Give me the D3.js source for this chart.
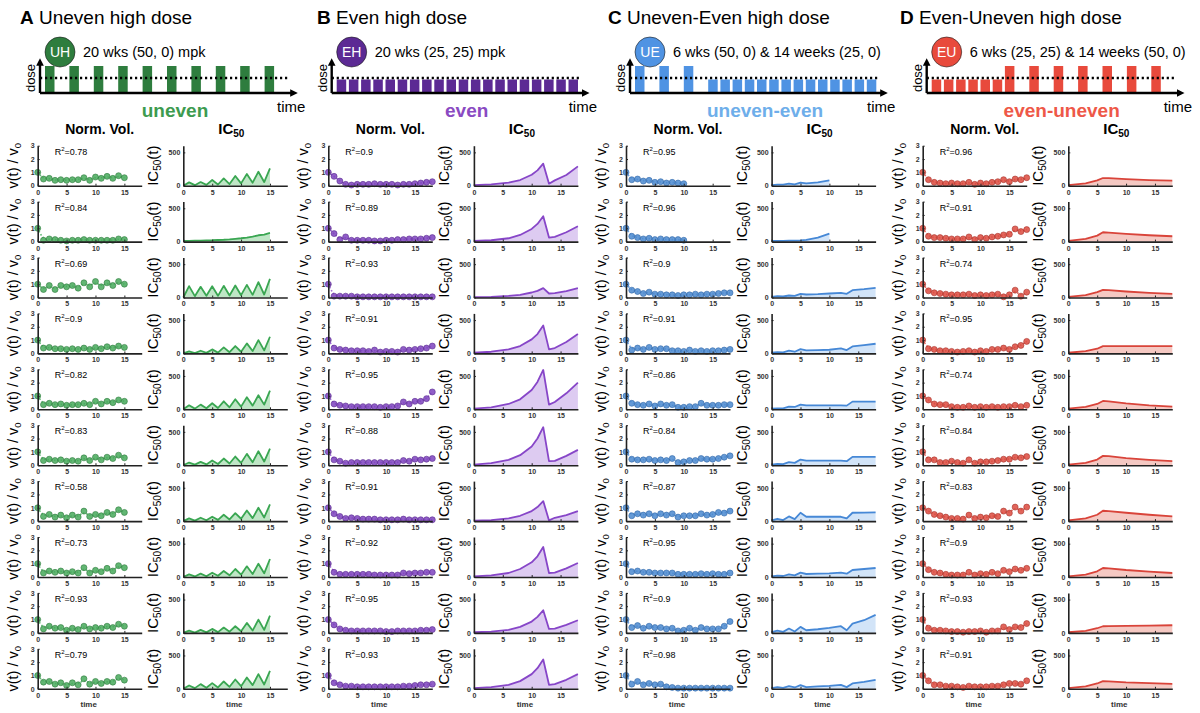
<!DOCTYPE html>
<html>
<head>
<meta charset="utf-8">
<script src="https://cdn.jsdelivr.net/npm/d3@7"></script>
<style>
  body { margin: 0; background: #fff; }
  text { font-family: "Liberation Sans", Arial, Helvetica, sans-serif; }
</style>
</head>
<body>
<svg id="chart" width="1200" height="713"></svg>
<script>
// ---------------- data ----------------
var panelLetters  = ["A", "B", "C", "D"];
var panelTitles   = ["Uneven high dose", "Even high dose", "Uneven-Even high dose", "Even-Uneven high dose"];
var badgeLabels   = ["UH", "EH", "UE", "EU"];
var regimenTexts  = ["20 wks (50, 0) mpk", "20 wks (25, 25) mpk",
                     "6 wks (50, 0) & 14 weeks (25, 0)", "6 wks (25, 25) & 14 weeks (50, 0)"];
var schemeNames   = ["uneven", "even", "uneven-even", "even-uneven"];
var meanDose      = 25;

// weekly dose (mpk), weeks 1..20
var doseA = [50,0,50,0,50,0,50,0,50,0,50,0,50,0,50,0,50,0,50,0];
var doseB = [25,25,25,25,25,25,25,25,25,25,25,25,25,25,25,25,25,25,25,25];
var doseC = [50,0,50,0,50,0,25,25,25,25,25,25,25,25,25,25,25,25,25,25];
var doseD = [25,25,25,25,25,25,50,0,50,0,50,0,50,0,50,0,50,0,50,0];

// R^2 per mouse
var r2A = [0.78, 0.84, 0.69, 0.9, 0.82, 0.83, 0.58, 0.73, 0.93, 0.79];
var r2B = [0.9, 0.89, 0.93, 0.91, 0.95, 0.88, 0.91, 0.92, 0.95, 0.93];
var r2C = [0.95, 0.96, 0.9, 0.91, 0.86, 0.84, 0.87, 0.95, 0.9, 0.98];
var r2D = [0.96, 0.91, 0.74, 0.95, 0.74, 0.84, 0.83, 0.9, 0.93, 0.91];

// normalised volume v(t)/v0, index = time (weeks)
var volA = [
  [1.0,0.5,0.55,0.4,0.45,0.4,0.45,0.45,0.6,0.4,0.65,0.55,0.7,0.55,0.75,0.6],
  [1.0,0.1,0.2,0.15,0.1,0.05,0.1,0.1,0.15,0.1,0.1,0.1,0.1,0.1,0.2,0.15],
  [1.0,0.6,0.9,0.6,0.9,0.8,0.9,0.7,1.1,0.8,1.2,0.8,1.1,0.9,1.2,1.0],
  [1.0,0.4,0.45,0.35,0.35,0.3,0.35,0.3,0.4,0.3,0.45,0.35,0.5,0.4,0.55,0.45],
  [1.0,0.35,0.45,0.35,0.4,0.3,0.35,0.35,0.45,0.35,0.6,0.4,0.6,0.5,0.7,0.6],
  [1.0,0.35,0.45,0.35,0.4,0.3,0.35,0.3,0.55,0.35,0.6,0.4,0.6,0.5,0.75,0.55],
  [1.0,0.35,0.5,0.3,0.45,0.25,0.45,0.3,0.75,0.35,0.5,0.4,0.65,0.5,0.85,0.65],
  [1.0,0.3,0.45,0.35,0.45,0.3,0.4,0.3,0.7,0.3,0.5,0.4,0.65,0.45,0.85,0.7],
  [1.0,0.3,0.5,0.35,0.4,0.2,0.35,0.25,0.5,0.3,0.4,0.35,0.5,0.4,0.65,0.5],
  [1.0,0.5,0.55,0.35,0.45,0.25,0.45,0.3,0.75,0.35,0.55,0.4,0.55,0.5,0.85,0.65]
];
var volB = [
  [1.0,0.7,0.35,0.1,0.05,0.1,0.1,0.1,0.15,0.1,0.1,0.1,0.05,0.1,0.1,0.15,0.2,0.25,0.3],
  [1.0,0.6,0.15,0.35,0.1,0.1,0.1,0.1,0.05,0.05,0.1,0.1,0.15,0.15,0.2,0.2,0.2,0.25,0.3],
  [1.0,0.1,0.1,0.1,0.1,0.05,0.05,0.05,0.05,0.05,0.05,0.05,0.05,0.05,0.05,0.05,0.05,0.05,0.05],
  [1.0,0.4,0.3,0.25,0.2,0.2,0.2,0.15,0.25,0.1,0.15,0.15,0.1,0.3,0.25,0.3,0.35,0.4,0.55],
  [1.0,0.4,0.3,0.25,0.2,0.2,0.2,0.2,0.2,0.15,0.2,0.2,0.25,0.55,0.4,0.6,0.6,0.8,1.3],
  [1.0,0.4,0.3,0.15,0.2,0.2,0.2,0.2,0.2,0.2,0.2,0.2,0.2,0.35,0.3,0.45,0.4,0.45,0.5],
  [1.0,0.55,0.35,0.2,0.25,0.2,0.15,0.15,0.15,0.1,0.1,0.1,0.1,0.15,0.1,0.1,0.1,0.1,0.1],
  [1.0,0.35,0.2,0.2,0.2,0.2,0.2,0.2,0.15,0.15,0.15,0.15,0.15,0.3,0.25,0.3,0.3,0.35,0.35],
  [1.0,0.6,0.3,0.2,0.15,0.15,0.15,0.15,0.15,0.15,0.1,0.1,0.15,0.15,0.15,0.15,0.2,0.2,0.25],
  [1.0,0.45,0.3,0.2,0.2,0.15,0.15,0.15,0.15,0.15,0.15,0.15,0.15,0.2,0.2,0.25,0.3,0.3,0.35]
];
var volC = [
  [1.0,0.45,0.5,0.35,0.4,0.25,0.3,0.2,0.25,0.2,0.15],
  [1.0,0.4,0.3,0.2,0.25,0.15,0.2,0.15,0.15,0.15,0.1],
  [1.0,0.55,0.45,0.3,0.4,0.25,0.25,0.2,0.2,0.15,0.2,0.2,0.25,0.2,0.25,0.25,0.3,0.35,0.35],
  [1.0,0.25,0.4,0.3,0.45,0.3,0.35,0.35,0.2,0.2,0.15,0.25,0.15,0.2,0.15,0.2,0.2,0.25,0.3],
  [1.0,0.45,0.35,0.3,0.4,0.25,0.4,0.3,0.35,0.15,0.15,0.2,0.2,0.45,0.3,0.3,0.3,0.35,0.35],
  [1.0,0.45,0.4,0.4,0.45,0.35,0.4,0.35,0.5,0.2,0.25,0.35,0.35,0.5,0.45,0.45,0.5,0.6,0.7],
  [1.0,0.4,0.55,0.45,0.55,0.4,0.55,0.45,0.55,0.3,0.4,0.4,0.4,0.55,0.45,0.5,0.65,0.6,0.75],
  [1.0,0.4,0.45,0.35,0.35,0.3,0.3,0.3,0.3,0.2,0.2,0.2,0.2,0.25,0.2,0.25,0.2,0.2,0.3],
  [1.0,0.4,0.55,0.35,0.5,0.4,0.4,0.3,0.35,0.15,0.2,0.35,0.2,0.4,0.3,0.3,0.3,0.5,0.85],
  [1.0,0.35,0.55,0.3,0.4,0.3,0.35,0.15,0.1,0.05,0.05,0.05,0.05,0.05,0.05,0.05,0.05,0.05,0.05]
];
var volD = [
  [1.0,0.45,0.25,0.2,0.15,0.2,0.15,0.15,0.25,0.1,0.2,0.15,0.25,0.3,0.45,0.3,0.5,0.45,0.6],
  [1.0,0.4,0.3,0.3,0.25,0.2,0.2,0.2,0.35,0.15,0.3,0.25,0.35,0.4,0.5,0.55,0.95,0.75,0.9],
  [1.0,0.5,0.35,0.3,0.25,0.2,0.2,0.2,0.25,0.15,0.2,0.15,0.2,0.25,0.05,0.2,0.55,0.1,0.4],
  [1.0,0.35,0.3,0.2,0.2,0.15,0.1,0.15,0.2,0.1,0.2,0.15,0.3,0.3,0.4,0.3,0.5,0.6,0.9],
  [1.0,0.7,0.4,0.35,0.35,0.2,0.15,0.15,0.25,0.15,0.2,0.15,0.2,0.15,0.2,0.2,0.3,0.2,0.3],
  [1.0,0.4,0.4,0.2,0.2,0.3,0.2,0.15,0.4,0.15,0.25,0.25,0.3,0.35,0.45,0.45,0.6,0.55,0.65],
  [1.0,0.75,0.5,0.4,0.3,0.2,0.2,0.15,0.45,0.2,0.3,0.25,0.4,0.35,0.75,0.6,1.05,0.75,1.05],
  [1.0,0.55,0.35,0.3,0.2,0.15,0.15,0.15,0.35,0.15,0.25,0.2,0.35,0.25,0.5,0.4,0.6,0.5,0.65],
  [1.0,0.35,0.2,0.2,0.15,0.1,0.1,0.05,0.1,0.1,0.15,0.05,0.15,0.15,0.45,0.25,0.45,0.4,0.7],
  [1.0,0.6,0.3,0.3,0.2,0.2,0.15,0.1,0.2,0.15,0.15,0.15,0.2,0.2,0.3,0.4,0.4,0.35,0.6]
];

// IC50(t): knot times per panel and values per mouse
var icTimesA = [0,1,2,3,4,5,6,7,8,9,10,11,12,13,14,15];
var ic50A = [
  [0,50,8,55,12,85,18,110,25,145,35,175,45,210,55,260],
  [10,12,14,16,18,20,24,28,34,42,50,60,75,95,105,130],
  [0,170,20,160,25,170,25,175,30,180,35,190,40,230,45,280],
  [0,30,5,40,8,60,12,90,18,110,25,150,35,200,45,250],
  [0,60,10,70,15,90,20,120,30,150,40,180,55,210,70,280],
  [0,40,8,50,12,70,18,100,25,130,35,170,45,210,55,250],
  [0,40,8,50,12,65,18,95,25,120,35,160,45,200,55,250],
  [0,40,8,50,12,65,18,90,25,120,35,160,45,200,55,270],
  [0,35,5,45,8,60,12,80,18,100,25,150,35,200,45,260],
  [0,50,10,70,15,85,20,110,30,140,40,170,55,220,65,270]
];
var icTimesB = [0,3,6,8,10,11,12,13,14,16,18];
var ic50B = [
  [10,20,45,85,165,230,330,30,80,160,290],
  [10,20,50,100,190,265,380,60,70,140,230],
  [5,10,25,40,75,100,140,60,65,95,140],
  [10,25,60,110,210,290,420,60,80,170,290],
  [10,30,80,150,290,410,590,70,110,240,400],
  [10,30,80,150,280,400,570,60,65,140,230],
  [5,15,40,80,150,210,300,10,50,90,150],
  [10,25,60,120,220,310,450,60,65,130,210],
  [10,20,45,90,170,240,340,60,65,120,190],
  [10,25,60,115,220,310,440,60,70,135,220]
];
var icTimesC = [0,1,2,3,4,5,6,8,10,12,13,14,16,18];
var ic50C = [
  [10,15,15,30,20,45,35,50,80],
  [10,10,12,14,15,18,25,60,120],
  [10,20,15,30,25,55,45,50,60,70,55,110,125,145],
  [10,20,15,40,25,65,45,50,55,75,50,105,125,145],
  [10,15,15,40,35,70,60,60,60,60,55,115,115,115],
  [10,20,15,45,35,85,70,70,70,70,60,125,125,125],
  [10,35,15,70,30,125,65,65,65,65,40,125,128,130],
  [10,20,15,40,25,65,45,50,55,65,50,105,120,135],
  [10,35,15,65,20,90,40,55,75,100,40,140,190,270],
  [10,25,15,40,20,55,25,35,45,60,25,80,105,135]
];
var icTimesD = [0,3,5,6,7,10,14,18];
var ic50D = [
  [10,35,80,115,115,100,85,75],
  [10,40,90,140,135,115,95,80],
  [10,35,80,115,110,90,70,55],
  [10,35,70,110,110,110,110,110],
  [10,35,80,125,120,90,60,40],
  [10,35,85,140,135,105,80,60],
  [10,40,95,155,150,125,95,70],
  [10,35,85,135,130,105,80,60],
  [10,30,70,100,102,105,110,115],
  [10,35,80,115,110,95,85,75]
];

var volTicksY = [0, 1, 2, 3];
var icTicksY  = [0, 500];
var timeTicks = [0, 5, 10, 15];

// ---------------- layout & style ----------------
var svg = d3.select("#chart");
var panelX   = [37.7, 328.3, 626, 922.7];   // x of the Norm. Vol. origin
var schemX   = [40, 331.7, 630, 926.7];     // x of the dose schematic axis
var titleX   = [20, 317, 608, 900];
var icOffset = 145.6, plotW = 104, plotH = 40;
var row0 = 185.7, rowStep = 55.9;

var darkCol  = ["#2e7d3e", "#5c2a94", "#4f93e3", "#e84a3c"];
var nameCol  = ["#3d9b4f", "#8a4ac2", "#6eaeea", "#ee5848"];
var lineCol  = ["#3aa652", "#8746c8", "#4688d6", "#d9443a"];
var fillCol  = ["#b8e3c0", "#d9c5ef", "#cde1f7", "#f4c3bd"];
var ptFill   = ["#47a95b", "#7d42bd", "#4a88cf", "#dc4a3e"];
var ptStroke = ["#2d7a3c", "#5a2a90", "#2f66a8", "#a8332a"];

var doses  = [doseA, doseB, doseC, doseD];
var r2s    = [r2A, r2B, r2C, r2D];
var vols   = [volA, volB, volC, volD];
var icTs   = [icTimesA, icTimesB, icTimesC, icTimesD];
var ics    = [ic50A, ic50B, ic50C, ic50D];

svg.append("defs").append("marker")
   .attr("id", "arrow").attr("viewBox", "0 0 10 10")
   .attr("refX", 5).attr("refY", 5)
   .attr("markerWidth", 3.2).attr("markerHeight", 3.2)
   .attr("orient", "auto")
   .append("path").attr("d", "M0,0 L10,5 L0,10 z").attr("fill", "#000");

function styleAxis(g) {
  g.select(".domain").attr("stroke", "#222").attr("stroke-width", 1.6);
  g.selectAll(".tick line").attr("stroke", "#222");
  g.selectAll(".tick text").attr("font-size", 7).attr("font-weight", "bold")
   .attr("fill", "#333").style("font-family", "Liberation Sans, Arial, sans-serif");
}

function drawHeader(p) {
  var g = svg.append("g");
  var t = g.append("text").attr("x", titleX[p]).attr("y", 24).attr("font-size", 19);
  t.append("tspan").attr("font-weight", "bold").text(panelLetters[p]);
  t.append("tspan").text(" " + panelTitles[p]);

  var cx = schemX[p] + 20, cy = 52;
  g.append("circle").attr("cx", cx).attr("cy", cy).attr("r", 15)
   .attr("fill", darkCol[p]).attr("stroke", "#1a1a1a").attr("stroke-width", 0.6);
  g.append("text").attr("x", cx).attr("y", cy + 5).attr("text-anchor", "middle")
   .attr("font-size", 14).attr("fill", "#fff").text(badgeLabels[p]);
  g.append("text").attr("x", cx + 23).attr("y", cy + 5).attr("font-size", 14.5)
   .text(regimenTexts[p]);

  // dose schematic
  var xw = d3.scaleLinear().domain([0, 20]).range([schemX[p] + 5, schemX[p] + 249]);
  var yd = d3.scaleLinear().domain([0, 50]).range([93, 66]);
  g.selectAll("rect.dose")
   .data(doses[p].map(function(d, i) { return { week: i, dose: d }; })
                 .filter(function(d) { return d.dose > 0; }))
   .enter().append("rect").attr("class", "dose")
   .attr("x", function(d) { return xw(d.week); })
   .attr("y", function(d) { return yd(d.dose); })
   .attr("width", xw(1) - xw(0) - 2.7)
   .attr("height", function(d) { return yd(0) - yd(d.dose); })
   .attr("fill", darkCol[p]);
  g.append("line").attr("x1", schemX[p]).attr("x2", schemX[p] + 250)
   .attr("y1", yd(meanDose) - 1.5).attr("y2", yd(meanDose) - 1.5)
   .attr("stroke", "#000").attr("stroke-width", 2.5).attr("stroke-dasharray", "2.2,2.8");
  g.append("line").attr("x1", schemX[p]).attr("x2", schemX[p])
   .attr("y1", yd(0)).attr("y2", 62)
   .attr("stroke", "#000").attr("stroke-width", 2.4).attr("marker-end", "url(#arrow)");
  g.append("line").attr("x1", schemX[p]).attr("x2", schemX[p] + 254)
   .attr("y1", yd(0)).attr("y2", yd(0))
   .attr("stroke", "#000").attr("stroke-width", 2.4).attr("marker-end", "url(#arrow)");
  g.append("text").attr("transform", "translate(" + (schemX[p] - 5) + ",78) rotate(-90)")
   .attr("text-anchor", "middle").attr("font-size", 13).text("dose");
  g.append("text").attr("x", schemX[p] + 237).attr("y", 112).attr("font-size", 15).text("time");
  g.append("text").attr("x", schemX[p] + 135).attr("y", 117).attr("text-anchor", "middle")
   .attr("font-size", 19).attr("font-weight", "bold").attr("fill", nameCol[p])
   .text(schemeNames[p]);

  // column headers
  g.append("text").attr("x", panelX[p] + 62).attr("y", 134).attr("text-anchor", "middle")
   .attr("font-size", 14).attr("font-weight", "bold").text("Norm. Vol.");
  var h = g.append("text").attr("x", panelX[p] + icOffset + 48).attr("y", 134)
   .attr("text-anchor", "middle").attr("font-size", 15).attr("font-weight", "bold");
  h.append("tspan").text("IC");
  h.append("tspan").attr("font-size", 10).attr("dy", 3).text("50");
}

function drawRow(p, r) {
  var y0 = row0 + r * rowStep;
  var last = (r === 9);
  var g = svg.append("g");

  // --- normalised volume ---
  var x = d3.scaleLinear().domain([0, 18]).range([panelX[p], panelX[p] + plotW]);
  var y = d3.scaleLinear().domain([0, 3]).range([y0, y0 - plotH]);
  var pts = vols[p][r].map(function(v, i) { return [i, v]; });

  g.append("path").datum(pts)
   .attr("d", d3.line().curve(d3.curveBasis).x(function(d) { return x(d[0]); }).y(function(d) { return y(d[1]); }))
   .attr("fill", "none").attr("stroke", lineCol[p]).attr("stroke-width", 1.6)
   .attr("stroke-dasharray", "1.5,1.8").attr("opacity", 0.8);
  g.selectAll("circle.pt").data(pts).enter().append("circle")
   .attr("cx", function(d) { return x(d[0]); }).attr("cy", function(d) { return y(d[1]); })
   .attr("r", 3).attr("fill", ptFill[p]).attr("fill-opacity", 0.85)
   .attr("stroke", ptStroke[p]).attr("stroke-width", 0.6);

  var ax = g.append("g").attr("transform", "translate(0," + y0 + ")")
   .call(d3.axisBottom(x).tickValues(timeTicks).tickFormat(d3.format("d"))
          .tickSize(-2).tickSizeOuter(0).tickPadding(4));
  styleAxis(ax);
  var ay = g.append("g").attr("transform", "translate(" + panelX[p] + ",0)")
   .call(d3.axisLeft(y).tickValues(volTicksY).tickFormat(d3.format("d"))
          .tickSize(-2).tickSizeOuter(0).tickPadding(3));
  styleAxis(ay);

  var rt = g.append("text").attr("x", panelX[p] + 17).attr("y", y0 - 31).attr("font-size", 9);
  rt.append("tspan").text("R");
  rt.append("tspan").attr("font-size", 6).attr("dy", -4).text("2");
  rt.append("tspan").attr("dy", 4).text("=" + r2s[p][r]);

  var yl = g.append("text")
   .attr("transform", "translate(" + (panelX[p] - 20) + "," + (y0 - 20) + ") rotate(-90)")
   .attr("text-anchor", "middle").attr("font-size", 14.5);
  yl.append("tspan").text("v(t) / v");
  yl.append("tspan").attr("font-size", 9.5).attr("dy", 3).text("0");

  // --- IC50 ---
  var ix0 = panelX[p] + icOffset;
  var x2 = d3.scaleLinear().domain([0, 18]).range([ix0, ix0 + plotW]);
  var y2 = d3.scaleLinear().domain([0, 600]).range([y0, y0 - plotH]);
  var ic = ics[p][r].map(function(v, i) { return [icTs[p][i], v]; });

  g.append("path").datum(ic)
   .attr("d", d3.area().x(function(d) { return x2(d[0]); }).y0(y0).y1(function(d) { return y2(d[1]); }))
   .attr("fill", fillCol[p]).attr("opacity", 0.9);
  g.append("path").datum(ic)
   .attr("d", d3.line().x(function(d) { return x2(d[0]); }).y(function(d) { return y2(d[1]); }))
   .attr("fill", "none").attr("stroke", lineCol[p]).attr("stroke-width", 1.8)
   .attr("stroke-linejoin", "round");

  var bx = g.append("g").attr("transform", "translate(0," + y0 + ")")
   .call(d3.axisBottom(x2).tickValues(timeTicks).tickFormat(d3.format("d"))
          .tickSize(-2).tickSizeOuter(0).tickPadding(4));
  styleAxis(bx);
  var by = g.append("g").attr("transform", "translate(" + ix0 + ",0)")
   .call(d3.axisLeft(y2).tickValues(icTicksY).tickFormat(d3.format("d"))
          .tickSize(-2).tickSizeOuter(0).tickPadding(3));
  styleAxis(by);

  var il = g.append("text")
   .attr("transform", "translate(" + (ix0 - 25) + "," + (y0 - 20) + ") rotate(-90)")
   .attr("text-anchor", "middle").attr("font-size", 15);
  il.append("tspan").text("IC");
  il.append("tspan").attr("font-size", 10).attr("dy", 3).text("50");
  il.append("tspan").attr("dy", -3).text("(t)");

  if (last) {
    [panelX[p], ix0].forEach(function(ox) {
      g.append("text").attr("x", ox + 51).attr("y", y0 + 18).attr("text-anchor", "middle")
       .attr("font-size", 8).attr("font-weight", "bold").attr("fill", "#333").text("time");
    });
  }
}

for (var p = 0; p < 4; p++) {
  drawHeader(p);
  for (var r = 0; r < 10; r++) drawRow(p, r);
}
</script>
</body>
</html>
